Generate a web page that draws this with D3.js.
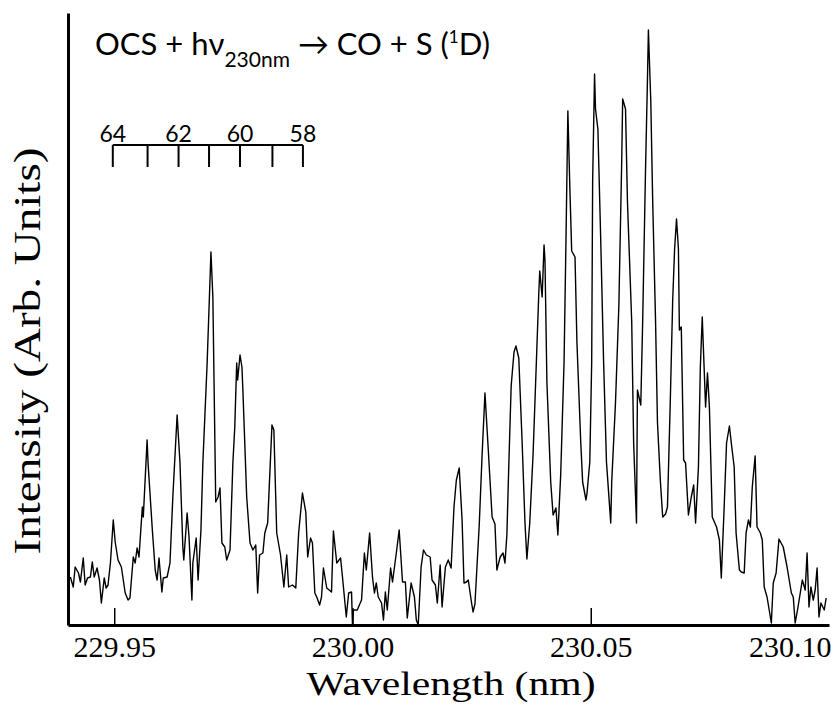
<!DOCTYPE html>
<html>
<head>
<meta charset="utf-8">
<script src="https://cdn.jsdelivr.net/npm/d3@7"></script>
<style>
  html, body { margin: 0; padding: 0; background: #ffffff; }
  svg { display: block; }
</style>
</head>
<body>
<svg id="chart" width="837" height="704"></svg>
<script>
// Photofragment S(1D) excitation spectrum, OCS photolysis near 230 nm
const wavelength = [
  229.9408, 229.9414, 229.9418, 229.9425, 229.9429, 229.9435, 229.9439, 229.9444, 229.9450, 229.9454,
  229.9458, 229.9464, 229.9469, 229.9473, 229.9479, 229.9483, 229.9487, 229.9492, 229.9498, 229.9502,
  229.9508, 229.9515, 229.9523, 229.9529, 229.9533, 229.9540, 229.9544, 229.9548, 229.9552, 229.9559,
  229.9561, 229.9569, 229.9571, 229.9580, 229.9586, 229.9590, 229.9594, 229.9600, 229.9603, 229.9611,
  229.9617, 229.9623, 229.9632, 229.9638, 229.9644, 229.9646, 229.9653, 229.9657, 229.9663, 229.9665,
  229.9672, 229.9676, 229.9682, 229.9686, 229.9695, 229.9703, 229.9707, 229.9713, 229.9718, 229.9722,
  229.9726, 229.9732, 229.9736, 229.9743, 229.9749, 229.9753, 229.9757, 229.9759, 229.9764, 229.9768,
  229.9770, 229.9778, 229.9785, 229.9791, 229.9797, 229.9801, 229.9805, 229.9812, 229.9816, 229.9822,
  229.9831, 229.9835, 229.9841, 229.9849, 229.9856, 229.9862, 229.9866, 229.9874, 229.9881, 229.9887,
  229.9895, 229.9902, 229.9906, 229.9912, 229.9916, 229.9921, 229.9925, 229.9931, 229.9935, 229.9939,
  229.9946, 229.9956, 229.9960, 229.9967, 229.9975, 229.9979, 229.9987, 229.9992, 229.9998, 230.0000,
  230.0002, 230.0010, 230.0019, 230.0025, 230.0029, 230.0036, 230.0042, 230.0046, 230.0050, 230.0054,
  230.0061, 230.0065, 230.0069, 230.0073, 230.0080, 230.0084, 230.0092, 230.0098, 230.0105, 230.0111,
  230.0115, 230.0123, 230.0130, 230.0134, 230.0138, 230.0144, 230.0149, 230.0155, 230.0163, 230.0167,
  230.0174, 230.0178, 230.0184, 230.0188, 230.0195, 230.0201, 230.0207, 230.0213, 230.0218, 230.0224,
  230.0230, 230.0234, 230.0239, 230.0243, 230.0249, 230.0253, 230.0257, 230.0266, 230.0272, 230.0278,
  230.0285, 230.0293, 230.0299, 230.0303, 230.0310, 230.0316, 230.0320, 230.0324, 230.0328, 230.0333,
  230.0339, 230.0343, 230.0349, 230.0356, 230.0362, 230.0366, 230.0372, 230.0379, 230.0385, 230.0391,
  230.0393, 230.0398, 230.0402, 230.0404, 230.0408, 230.0416, 230.0421, 230.0427, 230.0431, 230.0437,
  230.0444, 230.0448, 230.0452, 230.0456, 230.0460, 230.0467, 230.0471, 230.0479, 230.0483, 230.0490,
  230.0492, 230.0498, 230.0502, 230.0504, 230.0508, 230.0510, 230.0515, 230.0521, 230.0527, 230.0533,
  230.0542, 230.0544, 230.0552, 230.0559, 230.0565, 230.0567, 230.0573, 230.0577, 230.0586, 230.0590,
  230.0596, 230.0598, 230.0605, 230.0609, 230.0615, 230.0619, 230.0621, 230.0626, 230.0630, 230.0636,
  230.0640, 230.0646, 230.0651, 230.0657, 230.0661, 230.0667, 230.0672, 230.0676, 230.0680, 230.0684,
  230.0686, 230.0690, 230.0695, 230.0699, 230.0705, 230.0711, 230.0716, 230.0720, 230.0726, 230.0730,
  230.0734, 230.0741, 230.0745, 230.0749, 230.0755, 230.0764, 230.0770, 230.0774, 230.0780, 230.0785,
  230.0791, 230.0795, 230.0801, 230.0805, 230.0812, 230.0816, 230.0822, 230.0826, 230.0831, 230.0835,
  230.0839, 230.0845, 230.0849, 230.0856, 230.0860, 230.0864, 230.0870, 230.0879, 230.0883, 230.0889,
  230.0895, 230.0904, 230.0912, 230.0921, 230.0925, 230.0929, 230.0935, 230.0944, 230.0950, 230.0954,
  230.0958, 230.0962, 230.0967, 230.0971, 230.0975, 230.0979, 230.0983, 230.0990, 230.0994
];

// Signal in arbitrary units
const intensity = [
  48, 38, 58, 52, 43, 67, 40, 47, 48, 63,
  48, 57, 45, 22, 47, 37, 40, 62, 105, 83,
  65, 58, 32, 25, 27, 68, 62, 77, 68, 118,
  108, 185, 162, 95, 55, 45, 67, 33, 47, 48,
  62, 128, 210, 162, 78, 65, 112, 88, 25, 62,
  87, 45, 95, 162, 262, 373, 328, 123, 128, 137,
  82, 78, 65, 75, 162, 198, 262, 245, 270, 258,
  235, 128, 82, 75, 80, 32, 70, 72, 92, 102,
  200, 195, 92, 70, 38, 70, 38, 40, 37, 92,
  132, 113, 68, 87, 82, 32, 28, 20, 28, 57,
  37, 33, 94, 62, 67, 48, 8, 32, 33, 0,
  15, 15, 25, 72, 55, 92, 48, 32, 42, 28,
  22, 5, 33, 15, 57, 43, 72, 95, 43, 43,
  7, 42, 28, 5, 0, 58, 75, 70, 68, 45,
  40, 22, 60, 18, 58, 65, 57, 118, 145, 157,
  105, 42, 43, 45, 25, 13, 21, 100, 170, 232,
  175, 108, 101, 55, 68, 72, 62, 90, 159, 239,
  273, 279, 267, 183, 102, 66, 102, 171, 251, 332,
  354, 328, 380, 364, 243, 143, 110, 117, 90, 151,
  263, 384, 514, 440, 374, 368, 283, 183, 143, 125,
  131, 163, 263, 444, 551, 516, 496, 384, 263, 163,
  102, 143, 223, 319, 464, 526, 516, 424, 303, 183,
  102, 235, 220, 304, 456, 545, 595, 524, 424, 304,
  203, 145, 108, 111, 118, 225, 325, 376, 406, 376,
  295, 298, 165, 162, 110, 128, 140, 102, 158, 258,
  308, 218, 252, 218, 108, 98, 85, 47, 118, 182,
  199, 182, 158, 92, 55, 53, 52, 92, 105, 98,
  138, 169, 98, 92, 85, 38, 28, 2, 42, 52,
  86, 78, 58, 32, 28, 2, 18, 45, 35, 72,
  18, 38, 25, 35, 57, 8, 22, 15, 27
];

const xTicks = [229.95, 230.00, 230.05, 230.10];

// Rotational assignment comb (J levels) and its labelled members
const combJ = [64, 63, 62, 61, 60, 59, 58];
const combWavelength = [229.9497, 229.9570, 229.9635, 229.9699, 229.9764, 229.9832, 229.9896];
const combLabelled = [64, 62, 60, 58];

const spectrum = wavelength.map((w, i) => ({ w, v: intensity[i] }));

const svg = d3.select("#chart");
const plotLeft = 68, plotRight = 829, plotTop = 13, plotBottom = 625;
const serif = "'Liberation Serif', 'Times New Roman', serif";
const sans = "Lato, 'Noto Sans', 'Open Sans', sans-serif";

const x = d3.scaleLinear().domain([229.9403, 230.10]).range([plotLeft, plotRight]);
const y = d3.scaleLinear().domain([0, 612]).range([plotBottom, plotTop]);

// Spectrum trace
svg.append("path")
  .datum(spectrum)
  .attr("fill", "none")
  .attr("stroke", "#000")
  .attr("stroke-width", 1.4)
  .attr("stroke-linejoin", "round")
  .attr("d", d3.line().x(d => x(d.w)).y(d => y(d.v)));

// Bottom axis with inward ticks
const xAxis = svg.append("g")
  .attr("transform", `translate(0,${plotBottom})`)
  .call(d3.axisBottom(x)
    .tickValues(xTicks)
    .tickFormat(d3.format(".2f"))
    .tickSizeInner(-17)
    .tickSizeOuter(0)
    .tickPadding(11));
xAxis.attr("font-family", serif).attr("font-size", 30);
xAxis.select(".domain").attr("stroke-width", 3).attr("stroke", "#000");
xAxis.selectAll(".tick line").attr("stroke-width", 1.5).attr("stroke", "#000");
xAxis.selectAll(".tick text")
  .style("font-family", serif)
  .style("font-size", "30px")
  .attr("fill", "#000");
// last label sits flush with the end of the axis; its tick coincides with the frame end
xAxis.selectAll(".tick").filter(d => d === 230.10).each(function () {
  d3.select(this).select("line").remove();
  d3.select(this).select("text").attr("text-anchor", "end").attr("x", 2);
});

// Left axis (plain frame line, no ticks)
const yAxis = svg.append("g")
  .attr("transform", `translate(${plotLeft},0)`)
  .call(d3.axisLeft(y).tickValues([]).tickSizeOuter(0));
yAxis.select(".domain").attr("stroke-width", 3).attr("stroke", "#000");

// Axis titles
svg.append("text")
  .attr("x", 451).attr("y", 695)
  .attr("text-anchor", "middle")
  .style("font-family", serif)
  .style("font-size", "34px")
  .attr("textLength", 289)
  .attr("lengthAdjust", "spacingAndGlyphs")
  .text("Wavelength (nm)");

svg.append("text")
  .attr("transform", "translate(40,351) rotate(-90)")
  .attr("text-anchor", "middle")
  .style("font-family", serif)
  .style("font-size", "37px")
  .attr("textLength", 407)
  .attr("lengthAdjust", "spacingAndGlyphs")
  .text("Intensity (Arb. Units)");

// Reaction label
const title = svg.append("text")
  .attr("x", 95).attr("y", 55)
  .style("font-family", sans)
  .style("font-size", "31px")
  .attr("fill", "#000");
title.append("tspan").text("OCS + hν");
title.append("tspan").style("font-size", "21px").attr("dy", 12).text("230nm");
title.append("tspan").attr("dy", -12).text(" → CO + S (");
title.append("tspan").style("font-size", "17px").attr("dy", -12).text("1");
title.append("tspan").attr("dy", 12).text("D)");

// J assignment comb
const combY = 145, combTick = 22;
const comb = svg.append("g").attr("stroke", "#000").attr("stroke-width", 2);
comb.append("line")
  .attr("x1", x(combWavelength[0])).attr("x2", x(combWavelength[combWavelength.length - 1]))
  .attr("y1", combY).attr("y2", combY);
comb.selectAll("line.j")
  .data(combWavelength)
  .join("line")
  .attr("class", "j")
  .attr("x1", d => x(d)).attr("x2", d => x(d))
  .attr("y1", combY).attr("y2", combY + combTick);

svg.selectAll("text.jlabel")
  .data(combJ.map((j, i) => ({ j, w: combWavelength[i] })).filter(d => combLabelled.includes(d.j)))
  .join("text")
  .attr("class", "jlabel")
  .attr("x", d => x(d.w)).attr("y", combY - 3)
  .attr("text-anchor", "middle")
  .style("font-family", sans)
  .style("font-size", "23px")
  .text(d => d.j);
</script>
</body>
</html>
